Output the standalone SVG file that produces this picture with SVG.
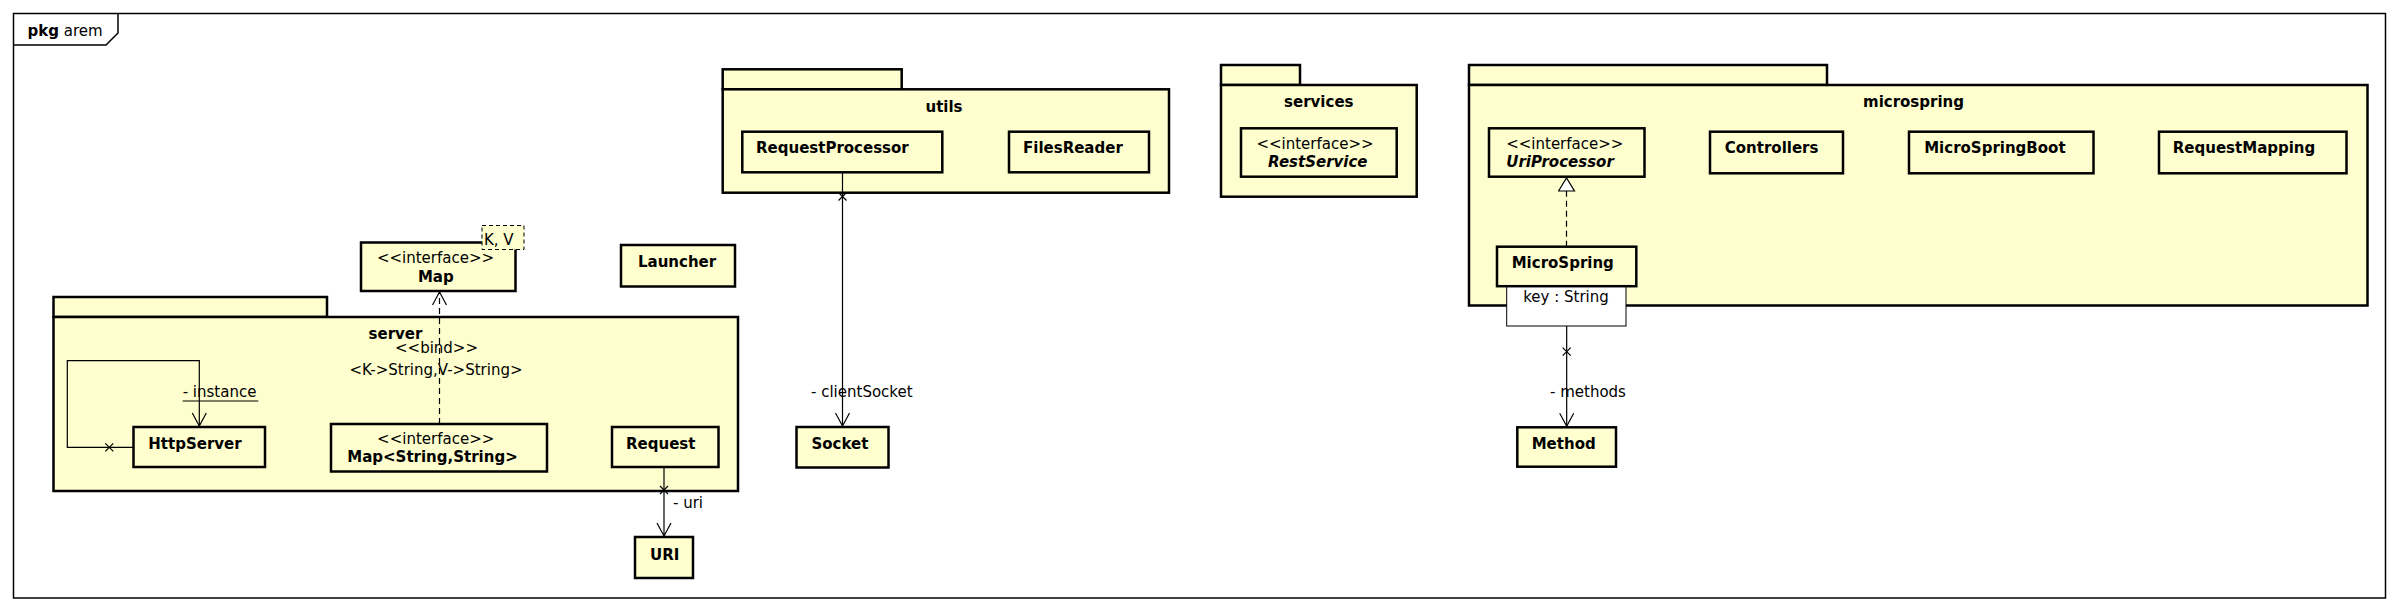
<svg xmlns="http://www.w3.org/2000/svg" width="2398" height="612" viewBox="0 0 2398 612">
<style>
text{font-family:"DejaVu Sans","Liberation Sans",sans-serif;font-size:15px;fill:#000}
.b{font-weight:bold}
.bi{font-weight:bold;font-style:italic}
.cls{fill:#FEFECE;stroke:#000;stroke-width:2.5}
.pkg{fill:#FEFECE;stroke:#000;stroke-width:2.5}
.tpl{fill:#FEFECE;stroke:#000;stroke-width:1;stroke-dasharray:4,3}
.fld{fill:#FFFFFF;stroke:#000;stroke-width:1}
.ln{fill:none;stroke:#000;stroke-width:1.2}
.dash{fill:none;stroke:#000;stroke-width:1.2;stroke-dasharray:6,4}
.mid{text-anchor:middle}
</style>
<defs>
<marker id="open" viewBox="0 0 16 16" refX="14" refY="8" markerWidth="16" markerHeight="16" markerUnits="userSpaceOnUse" orient="auto">
<path d="M1,1 L14,8 L1,15" fill="none" stroke="#000" stroke-width="1.2"/>
</marker>
<marker id="tri" viewBox="0 0 16 18" refX="14" refY="9" markerWidth="16" markerHeight="18" markerUnits="userSpaceOnUse" orient="auto">
<path d="M1,1 L14,9 L1,17 Z" fill="#FFFFFF" stroke="#000" stroke-width="1.2"/>
</marker>
</defs>

<g id="frame">
<rect x="13.5" y="13.5" width="2372" height="584.5" fill="none" stroke="#000" stroke-width="1.5"/>
<path d="M13.5,45 L106,45 L118,33 L118,13.5" fill="none" stroke="#000" stroke-width="1.5"/>
<text x="27.5" y="36"><tspan class="b">pkg</tspan> arem</text>
</g>

<g id="pkg-server">
<rect class="pkg" x="53.5" y="297" width="273.5" height="20"/>
<rect class="pkg" x="53.5" y="317" width="684.5" height="174"/>
<text class="b mid" x="395.5" y="339">server</text>
</g>
<g id="pkg-utils">
<rect class="pkg" x="722.7" y="69.3" width="179" height="20"/>
<rect class="pkg" x="722.7" y="89.3" width="446.3" height="103.4"/>
<text class="b mid" x="944" y="111.5">utils</text>
</g>
<g id="pkg-services">
<rect class="pkg" x="1221" y="65" width="79" height="20"/>
<rect class="pkg" x="1221" y="85" width="195.7" height="111.7"/>
<text class="b mid" x="1318.8" y="107">services</text>
</g>
<g id="pkg-microspring">
<rect class="pkg" x="1469" y="65" width="358" height="20"/>
<rect class="pkg" x="1469" y="85" width="898.5" height="220.5"/>
<text class="b mid" x="1913.5" y="107">microspring</text>
</g>

<g id="Map">
<rect class="cls" x="361" y="242.5" width="154.5" height="48.5"/>
<text class="mid" x="435.5" y="263">&lt;&lt;interface&gt;&gt;</text>
<text class="b mid" x="435.8" y="282">Map</text>
<rect class="tpl" x="482" y="225.5" width="42" height="24"/>
<text x="484" y="244.5">K, V</text>
</g>
<g id="Launcher">
<rect class="cls" x="621" y="245" width="114" height="41.5"/>
<text class="b" x="638" y="267">Launcher</text>
</g>
<g id="HttpServer">
<rect class="cls" x="133.5" y="427" width="131.5" height="40"/>
<text class="b" x="148.3" y="449">HttpServer</text>
</g>
<g id="MapStringString">
<rect class="cls" x="331" y="424" width="216" height="47.5"/>
<text class="mid" x="435.7" y="443.5">&lt;&lt;interface&gt;&gt;</text>
<text class="b mid" x="432.5" y="462">Map&lt;String,String&gt;</text>
</g>
<g id="Request">
<rect class="cls" x="612" y="427" width="106.5" height="40"/>
<text class="b" x="626" y="449">Request</text>
</g>
<g id="URI">
<rect class="cls" x="635" y="537" width="58" height="41"/>
<text class="b" x="650" y="559.5">URI</text>
</g>
<g id="Socket">
<rect class="cls" x="796.5" y="427" width="92" height="40.5"/>
<text class="b" x="811.5" y="449">Socket</text>
</g>
<g id="RequestProcessor">
<rect class="cls" x="742.3" y="131.7" width="200" height="40.6"/>
<text class="b" x="756" y="152.5">RequestProcessor</text>
</g>
<g id="FilesReader">
<rect class="cls" x="1009" y="131.7" width="140" height="40.6"/>
<text class="b" x="1023" y="152.5">FilesReader</text>
</g>
<g id="RestService">
<rect class="cls" x="1241" y="128.3" width="155.7" height="48.4"/>
<text class="mid" x="1315" y="149">&lt;&lt;interface&gt;&gt;</text>
<text class="bi mid" x="1317.8" y="167">RestService</text>
</g>
<g id="UriProcessor">
<rect class="cls" x="1489" y="128.3" width="155.5" height="48.4"/>
<text class="mid" x="1564.8" y="149">&lt;&lt;interface&gt;&gt;</text>
<text class="bi mid" x="1560" y="167">UriProcessor</text>
</g>
<g id="Controllers">
<rect class="cls" x="1710" y="131.7" width="133" height="41.6"/>
<text class="b" x="1724.8" y="152.5">Controllers</text>
</g>
<g id="MicroSpringBoot">
<rect class="cls" x="1909" y="131.7" width="184.5" height="41.6"/>
<text class="b" x="1924.2" y="152.5">MicroSpringBoot</text>
</g>
<g id="RequestMapping">
<rect class="cls" x="2159" y="131.7" width="187.5" height="41.6"/>
<text class="b" x="2172.8" y="152.5">RequestMapping</text>
</g>
<g id="MicroSpring">
<rect class="fld" x="1506.7" y="286.3" width="119.3" height="39.7"/>
<text class="mid" x="1566" y="302">key : String</text>
<rect class="cls" x="1497" y="246.7" width="139.3" height="39.5"/>
<text class="b" x="1511.7" y="268">MicroSpring</text>
</g>
<g id="Method">
<rect class="cls" x="1517.3" y="427.3" width="98.7" height="39.4"/>
<text class="b" x="1531.7" y="448.5">Method</text>
</g>

<g id="connectors">
<path class="ln" d="M133.5,447.3 L67.3,447.3 L67.3,360.7 L199.3,360.7 L199.3,426" marker-end="url(#open)"/>
<path class="ln" d="M105.3,443.3 L113.3,451.3 M113.3,443.3 L105.3,451.3"/>
<text x="182.7" y="397.3">- instance</text>
<line x1="182.7" y1="401" x2="258.3" y2="401" stroke="#000" stroke-width="1"/>

<path class="dash" d="M439.5,424 L439.5,292" marker-end="url(#open)"/>
<text class="mid" x="436.5" y="353">&lt;&lt;bind&gt;&gt;</text>
<text class="mid" x="436" y="374.5">&lt;K-&gt;String,V-&gt;String&gt;</text>

<path class="ln" d="M664,467 L664,536" marker-end="url(#open)"/>
<path class="ln" d="M660,486 L668,494 M668,486 L660,494"/>
<text x="673" y="508">- uri</text>

<path class="ln" d="M842.5,172.3 L842.5,426" marker-end="url(#open)"/>
<path class="ln" d="M838.5,192.5 L846.5,200.5 M846.5,192.5 L838.5,200.5"/>
<text x="811" y="397">- clientSocket</text>

<path class="dash" d="M1566.5,246.7 L1566.5,178" marker-end="url(#tri)"/>

<path class="ln" d="M1566.7,326 L1566.7,426.3" marker-end="url(#open)"/>
<path class="ln" d="M1562.7,347.7 L1570.7,355.7 M1570.7,347.7 L1562.7,355.7"/>
<text x="1550" y="397.3">- methods</text>
</g>
</svg>
